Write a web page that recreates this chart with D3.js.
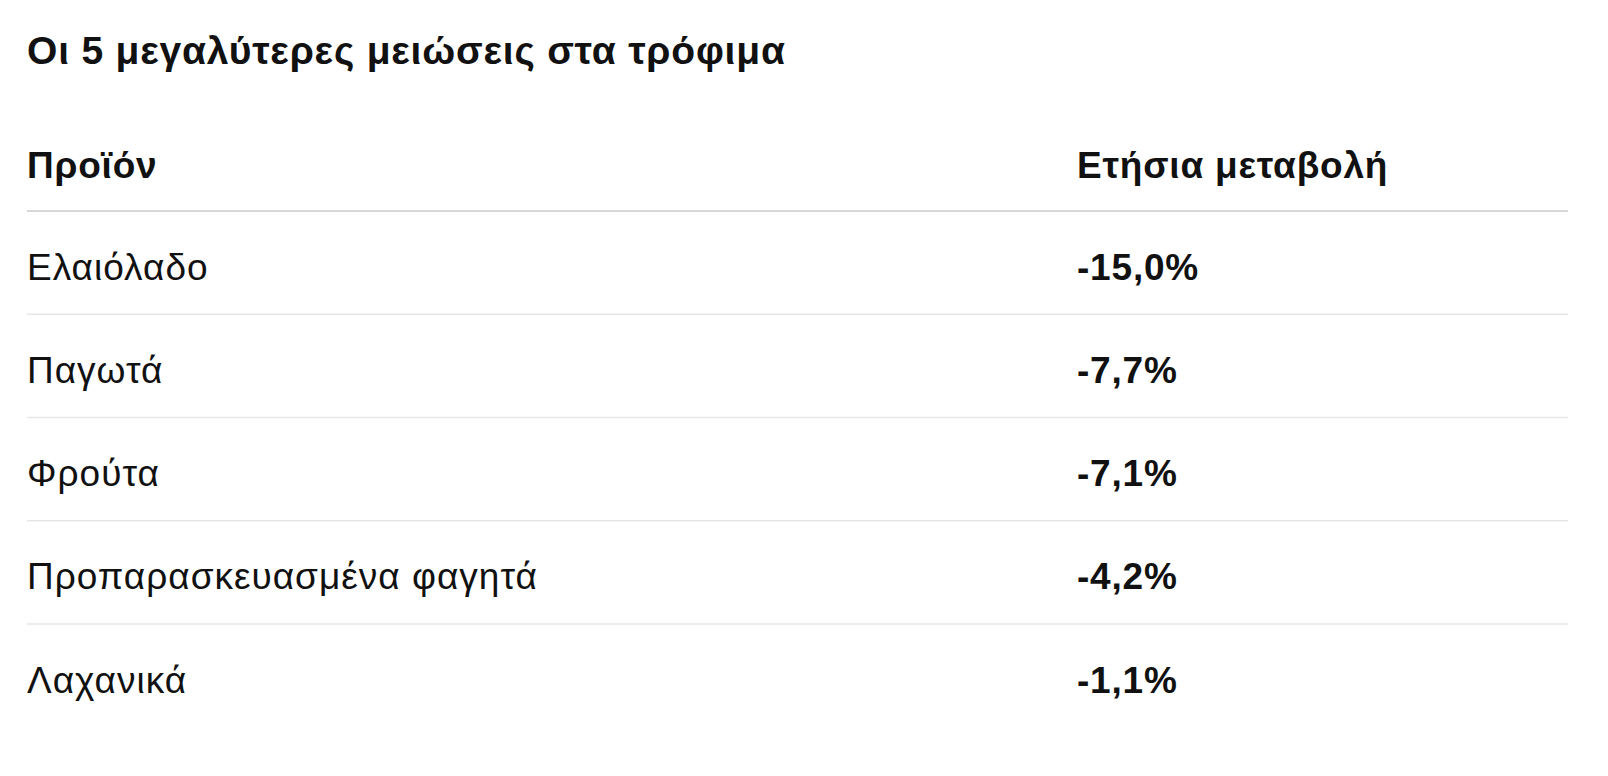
<!DOCTYPE html>
<html><head><meta charset="utf-8">
<script src="https://cdn.jsdelivr.net/npm/d3@7"></script>
<style>body{margin:0;background:#fff}</style>
</head><body>
<svg id="c" width="1608" height="776"></svg>
<script>
const title = "Οι 5 μεγαλύτερες μειώσεις στα τρόφιμα";
const headers = ["Προϊόν", "Ετήσια μεταβολή"];
const products = ["Ελαιόλαδο", "Παγωτά", "Φρούτα", "Προπαρασκευασμένα φαγητά", "Λαχανικά"];
const changes = [-15.0, -7.7, -7.1, -4.2, -1.1];

const svg = d3.select("#c");
const font = "'Liberation Sans', Arial, sans-serif";
const fmt = v => d3.format(".1f")(v).replace("−","-").replace(".", ",") + "%";
const x0 = 27, x1 = 1077, xr = 1568;
const y = d3.scaleLinear().domain([0, products.length]).range([211, 211 + 103.25 * products.length]);

svg.append("text").attr("x", x0).attr("y", 64).attr("font-family", font)
  .attr("font-size", 39).attr("font-weight", 700).attr("letter-spacing", 0.8).attr("fill", "#111").text(title);

headers.forEach((h, i) => svg.append("text").attr("x", i ? x1 : x0).attr("y", 178)
  .attr("font-family", font).attr("font-size", 37).attr("font-weight", 700).attr("letter-spacing", 0.8).attr("fill", "#111").text(h));

svg.append("line").attr("x1", x0).attr("x2", xr).attr("y1", y(0)).attr("y2", y(0))
  .attr("stroke", "#d8d8d8").attr("stroke-width", 2);

products.forEach((p, i) => {
  const cy = (y(i) + y(i + 1)) / 2;
  svg.append("text").attr("x", x0).attr("y", cy + 17).attr("font-family", font)
    .attr("font-size", 37).attr("letter-spacing", 1).attr("fill", "#111").text(p);
  svg.append("text").attr("x", x1).attr("y", cy + 17).attr("font-family", font)
    .attr("font-size", 37).attr("font-weight", 700).attr("letter-spacing", 0.8).attr("fill", "#111").text(fmt(changes[i]));
  if (i < products.length - 1)
    svg.append("line").attr("x1", x0).attr("x2", xr).attr("y1", y(i + 1)).attr("y2", y(i + 1))
      .attr("stroke", "#e6e6e6").attr("stroke-width", 1.5);
});
</script>
</body></html>
